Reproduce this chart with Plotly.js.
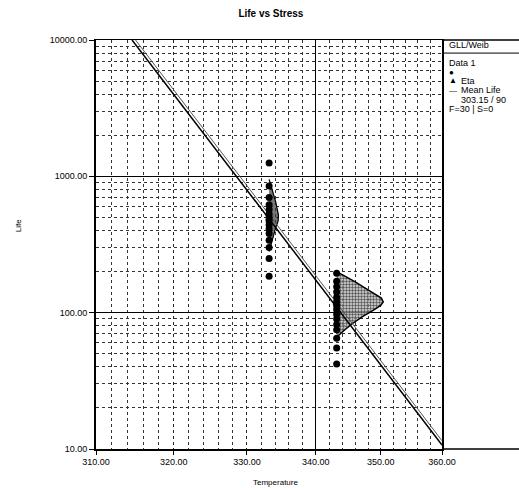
<!DOCTYPE html>
<html>
<head>
<meta charset="utf-8">
<script src="https://cdn.plot.ly/plotly-3.0.1.min.js"></script>
<style>html,body{margin:0;padding:0;background:#fff}#chart{width:519px;height:488px}</style>
</head>
<body>
<div id="chart"></div>
<script>
// ---- data (temperatures in K, life in hours) ----
const stressA = 333.15;
const lifeA = [185, 250, 300, 340, 380, 410, 440, 470, 500, 530, 570, 620, 700, 850, 1250];
const stressB = 343.15;
const lifeB = [42, 55, 65, 75, 82, 90, 97, 105, 112, 120, 130, 142, 155, 170, 195];

const etaStress = [333.15, 343.15];
const etaLife = [491, 117];

const etaLineStress = [315.0, 360.0];
const etaLineLife = [10000, 11.5];
const meanLineStress = [314.55, 360.0];
const meanLineLife = [10000, 10.7];

const pdfBStress = [343.15, 344.5, 346.0, 347.5, 349.0, 350.1, 350.4, 350.0, 348.8, 347.2, 345.7, 344.4, 343.15];
const pdfBLife   = [200, 185, 168, 152, 138, 128, 120, 113, 104, 94, 84, 75, 66];
const pdfAStress = [333.15, 333.6, 334.1, 334.5, 334.45, 334.1, 333.7, 333.15];
const pdfALife   = [950, 800, 650, 520, 470, 420, 360, 280];

const xTicks = [310, 320, 330, 340, 350, 360];
const xTickText = ["310.00", "320.00", "330.00", "340.00", "350.00", "360.00"];
const xMinor = [312,314,316,318,322,324,326,328,332,334,336,338,342,344,346,348,352,354,356,358];
const yTicks = [10, 100, 1000, 10000];
const yTickText = ["10.00", "100.00", "1000.00", "10000.00"];
const yMinor = [20,30,40,50,60,70,80,90,200,300,400,500,600,700,800,900,2000,3000,4000,5000,6000,7000,8000,9000];

const legendLines = ["GLL/Weib", "Data 1", "●", "▲", "—", "Eta", "Mean Life", "303.15 / 90", "F=30 | S=0"];

// Arrhenius axis: position is -1000/T
const u = T => -1000 / T;
const U = arr => arr.map(u);
const FONT = "Liberation Sans, Arial, sans-serif";

const traces = [
  {x: U(pdfBStress), y: pdfBLife, mode: 'lines', fill: 'toself', fillcolor: 'rgba(120,120,120,0.45)',
   fillpattern: {shape: '.', fgcolor: '#555', bgcolor: 'rgba(200,200,200,0.6)', size: 3, solidity: 0.5},
   line: {color: '#000', width: 1.5}, showlegend: false, hoverinfo: 'skip'},
  {x: U(pdfAStress), y: pdfALife, mode: 'lines', fill: 'toself', fillcolor: 'rgba(60,60,60,0.7)',
   line: {color: '#000', width: 1.2}, showlegend: false, hoverinfo: 'skip'},
  {x: U(etaLineStress), y: etaLineLife, mode: 'lines', line: {color: '#555', width: 1}, showlegend: false},
  {x: U(meanLineStress), y: meanLineLife, mode: 'lines', line: {color: '#000', width: 1.5}, showlegend: false},
  {x: U(lifeA.map(() => stressA)), y: lifeA, mode: 'markers', marker: {color: '#000', size: 7, symbol: 'circle'}, showlegend: false},
  {x: U(lifeB.map(() => stressB)), y: lifeB, mode: 'markers', marker: {color: '#000', size: 7, symbol: 'circle'}, showlegend: false},
  {x: U(etaStress), y: etaLife, mode: 'markers', marker: {color: '#000', size: 7, symbol: 'triangle-up'}, showlegend: false},
  {x: U([340]), y: [10], xaxis: 'x2', yaxis: 'y', mode: 'markers', marker: {opacity: 0}, showlegend: false, hoverinfo: 'skip'}
];

const xr = [u(310), u(360)];
const P = ypix => (449 - ypix) / 409;   // pixel row -> paper y
const legAnn = (text, xp, ypix, size) => ({text: text, xref: 'paper', yref: 'paper', x: xp, y: P(ypix),
  xanchor: 'left', yanchor: 'middle', showarrow: false, font: {size: size || 9, family: FONT}});

const layout = {
  width: 519, height: 488,
  margin: {l: 96, r: 77, t: 40, b: 39},
  paper_bgcolor: '#fff', plot_bgcolor: '#fff',
  font: {family: FONT, size: 9, color: '#000'},
  title: {text: '<b>Life vs Stress</b>', x: 0.522, xanchor: 'center', y: 0.972, yanchor: 'middle', font: {size: 10, family: FONT}},
  showlegend: false,
  xaxis: {
    type: 'linear', range: xr, tickmode: 'array', tickvals: U(xTicks), ticktext: xTickText,
    showgrid: true, gridcolor: '#222', griddash: 'dot', gridwidth: 1,
    showline: true, linecolor: '#000', linewidth: 1.5, mirror: true,
    ticks: 'outside', ticklen: 4, tickcolor: '#000', tickfont: {size: 9, family: FONT},
    minor: {tickmode: 'array', tickvals: U(xMinor), showgrid: true, gridcolor: '#333', griddash: 'dot', gridwidth: 1, ticks: ''},
    zeroline: false
  },
  xaxis2: {
    overlaying: 'x', matches: 'x', range: xr, tickmode: 'array', tickvals: U([340]),
    showgrid: true, gridcolor: '#000', gridwidth: 1.2, showticklabels: false, ticks: '', showline: false, zeroline: false
  },
  yaxis: {
    type: 'log', range: [1, 4], tickmode: 'array', tickvals: yTicks, ticktext: yTickText,
    showgrid: true, gridcolor: '#000', gridwidth: 1.2,
    showline: true, linecolor: '#000', linewidth: 2, mirror: true,
    ticks: 'outside', ticklen: 5, tickcolor: '#000', tickfont: {size: 9, family: FONT},
    minor: {tickmode: 'array', tickvals: yMinor, showgrid: true, gridcolor: '#333', griddash: 'dot', gridwidth: 1, ticks: ''},
    zeroline: false
  },
  shapes: [
    {type: 'line', xref: 'paper', yref: 'paper', x0: 1, x1: 1.3, y0: 1, y1: 1, line: {color: '#000', width: 1.5}},
    {type: 'line', xref: 'paper', yref: 'paper', x0: 1, x1: 1.3, y0: 0, y1: 0, line: {color: '#000', width: 1.5}},
    {type: 'line', xref: 'paper', yref: 'paper', x0: 1, x1: 1.3, y0: 0.968, y1: 0.968, line: {color: '#000', width: 1}}
  ],
  annotations: [
    {text: 'Temperature', xref: 'paper', yref: 'paper', x: 0.52, y: -0.083, xanchor: 'center', yanchor: 'middle', showarrow: false, font: {size: 8, family: FONT}},
    {text: 'Life', xref: 'paper', yref: 'paper', x: -0.225, y: 0.545, xanchor: 'center', yanchor: 'middle', textangle: -90, showarrow: false, font: {size: 8, family: FONT}},
    legAnn(legendLines[0], 1.014, 45),
    legAnn(legendLines[1], 1.014, 63),
    legAnn(legendLines[2], 1.014, 72, 8),
    legAnn(legendLines[3], 1.014, 81, 8),
    legAnn(legendLines[4], 1.014, 90, 8),
    legAnn(legendLines[5], 1.048, 81),
    legAnn(legendLines[6], 1.048, 90),
    legAnn(legendLines[7], 1.048, 99.5),
    legAnn(legendLines[8], 1.014, 109.5)
  ]
};

Plotly.newPlot('chart', traces, layout, {displayModeBar: false, staticPlot: true});
</script>
</body>
</html>
